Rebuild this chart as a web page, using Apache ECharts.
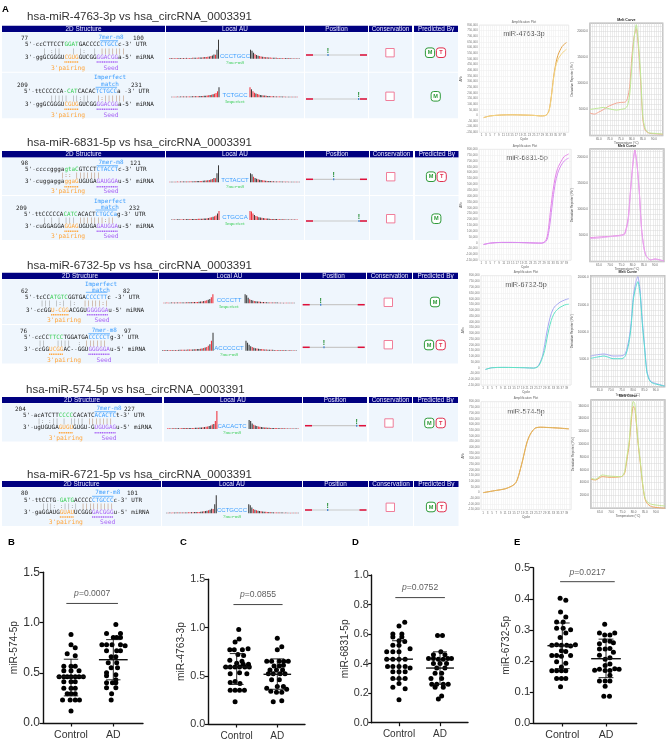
<!DOCTYPE html>
<html><head><meta charset="utf-8"><style>html,body{margin:0;padding:0;background:#fff}#c{width:669px;height:741px}</style>
<script src="https://cdn.jsdelivr.net/npm/echarts@6/dist/echarts.min.js"></script></head><body><div id="c"></div><script>
// ---------- scatter data: [jitter, value]
const groups=['Control','AD'];
const bControl=[[0,.88],[0,.78],[.10,.75],[-.09,.69],[.10,.67],[-.17,.565],[0,.565],[.10,.565],[-.17,.52],[0,.52],[.19,.52],[-.28,.46],[-.17,.46],[-.09,.46],[0,.46],[.10,.46],[.19,.46],[.29,.46],[-.17,.41],[0,.41],[.10,.41],[-.17,.345],[0,.345],[.10,.345],[-.09,.29],[0,.29],[.10,.29],[-.2,.23],[-.02,.23],[.10,.23],[.2,.23],[0,.12]];
const bAD=[[.06,.98],[-.16,.89],[.17,.89],[0,.85],[.08,.85],[.17,.85],[-.27,.78],[-.16,.78],[-.03,.78],[.17,.78],[.28,.77],[-.16,.72],[.08,.72],[.17,.72],[-.05,.66],[.06,.66],[-.12,.6],[.08,.6],[-.05,.55],[.1,.55],[-.16,.5],[.06,.48],[-.16,.47],[.06,.43],[-.16,.4],[-.02,.4],[.06,.4],[-.16,.35],[.06,.35],[-.04,.29],[-.05,.23]];
const cControl=[[.05,.98],[.06,.88],[-.04,.85],[-.17,.77],[-.06,.77],[.14,.77],[.28,.78],[.03,.72],[.17,.71],[-.17,.66],[.13,.65],[.16,.62],[.29,.62],[0,.63],[-.27,.59],[-.16,.59],[-.04,.59],[.07,.59],[.2,.59],[.31,.59],[-.16,.52],[.07,.53],[.25,.52],[-.16,.43],[-.04,.44],[.08,.42],[-.16,.35],[-.04,.35],[.07,.35],[.19,.35],[-.04,.23]];
const cAD=[[0,.89],[.11,.80],[0,.77],[-.26,.65],[-.14,.65],[.05,.65],[.16,.65],[.27,.65],[-.08,.6],[.15,.61],[.05,.6],[-.18,.56],[-.02,.56],[.13,.56],[-.22,.52],[-.1,.52],[.07,.52],[.19,.52],[-.14,.46],[.05,.46],[0,.39],[.15,.39],[-.26,.37],[-.16,.34],[-.02,.33],[.11,.33],[.23,.36],[-.1,.23],[.11,.24]];
const dControl=[[.14,.68],[0,.655],[-.15,.6],[.07,.6],[-.15,.58],[.07,.58],[.14,.55],[0,.555],[-.15,.525],[0,.525],[.27,.5],[-.3,.48],[-.15,.48],[0,.48],[-.3,.43],[-.15,.43],[0,.43],[.15,.43],[-.28,.38],[-.15,.38],[0,.38],[.15,.38],[.27,.37],[-.15,.345],[0,.345],[.15,.345],[-.15,.3],[0,.3],[.15,.3],[0,.265],[-.15,.24],[.15,.23],[0,.155]];
const dAD=[[-.06,.59],[.06,.59],[.02,.48],[-.16,.46],[.12,.46],[-.28,.435],[-.16,.435],[-.04,.43],[.08,.43],[.19,.435],[.28,.435],[-.16,.4],[0,.4],[.16,.4],[-.08,.37],[.12,.37],[-.12,.335],[.04,.335],[-.22,.3],[.04,.3],[-.2,.26],[-.08,.26],[.08,.26],[.2,.26],[-.12,.24],[.08,.24],[.04,.18],[-.04,.16]];
const eControl=[[-.05,.402],[.08,.395],[-.04,.357],[.08,.341],[-.13,.325],[.02,.325],[-.13,.305],[.02,.305],[.19,.3],[.08,.29],[-.05,.275],[-.24,.25],[-.13,.252],[-.02,.25],[.1,.25],[.19,.248],[.3,.252],[-.02,.233],[.08,.23],[-.24,.217],[-.13,.217],[-.02,.215],[.19,.217],[-.13,.197],[.08,.192],[-.02,.18],[-.24,.168],[-.13,.168],[-.02,.168],[.08,.168],[-.13,.143],[-.02,.143],[.08,.143],[-.04,.117]];
const eAD=[[-.03,.318],[-.15,.29],[-.03,.283],[.09,.283],[.2,.29],[-.03,.265],[.09,.263],[-.15,.255],[.17,.258],[.09,.24],[-.15,.238],[-.02,.238],[.17,.228],[-.15,.218],[.09,.21],[-.02,.205],[.09,.19],[-.02,.185],[-.26,.17],[-.15,.173],[-.02,.169],[.09,.169],[.2,.175],[.3,.173],[.09,.154],[-.15,.135],[-.02,.135],[.09,.135],[-.02,.118],[-.05,.086],[.08,.086]];
// [mean, lower SD, upper SD]
const bStats=[[.46,.27,.635],[.63,.43,.83]];
const cStats=[[.59,.41,.73],[.515,.36,.675]];
const dStats=[[.43,.295,.555],[.37,.26,.48]];
const eStats=[[.249,.175,.322],[.207,.146,.27]];
const pValues=['0.0007','0.0855','0.0752','0.0217'];
const scatterNames=['miR-574-5p','miR-4763-3p','miR-6831-5p','miR-6732-5p'];
const scatterTicks=[[1.5,.5],[1.5,.5],[1,.2],[.5,.1]];
const scatterBarY=[1.19,1.238,.847,.455];
// ---------- qPCR data
const ampCycles1=[2,5,10,15,20,25,28,30,31,32,33,34,35,36,37,38,39,40];
const amp1a=[-20000,-5000,3000,5000,3000,0,-5000,-3000,8000,45000,165000,330000,450000,530000,575000,610000,630000,645000];
const amp1b=[-20000,-5000,3000,5000,3000,0,-5000,-3000,6000,40000,155000,315000,430000,490000,525000,550000,570000,585000];
const amp2a=[-15000,-3000,3000,3000,1000,-2000,-3000,30000,130000,300000,449000,562000,634000,676000,710000,739000,750000,761000];
const amp2b=[-15000,-3000,3000,3000,1000,-2000,-3000,15000,80000,220000,380000,510000,590000,640000,675000,700000,715000,725000];
const ampCycles3=[2,5,10,15,20,24,25,26,27,28,29,30,31,32,33,34,35,36,37,38,39,40];
const amp3a=[-15000,0,3000,2000,0,-3000,2000,15000,50000,100000,200000,310000,400000,470000,515000,540000,555000,570000,580000,588000,595000,600000];
const amp3b=[-15000,0,3000,2000,0,-3000,0,10000,40000,90000,150000,250000,340000,410000,460000,490000,510000,525000,535000,545000,550000,552000];
const ampCycles4=[1,7,11,14,15,16,17,18,19,20,21,22,23,24,25,27,30,35,40];
const amp4a=[0,20000,33000,57000,70000,90000,140000,210000,285000,370000,445000,495000,530000,555000,570000,575000,573000,568000,560000];
const amp4b=[0,20000,34000,58000,71000,92000,143000,213000,288000,372000,447000,497000,532000,556000,571000,576000,574000,569000,562000];
const meltT1=[61,63,65,67,69,71,73,75,77,78,79,80,81,82,83,84,85,86,87,88,90,94];
const melt1a=[4300,4100,4490,4940,5510,5890,6210,6340,6400,7100,9330,15060,18890,20480,16660,10290,2960,1050,610,420,350,220];
const melt1b=[5000,5130,5250,5380,5190,5000,4870,5000,5190,5700,7740,13470,18570,21240,17610,11560,3600,1370,730,480,420,290];
const meltT2=[61,65,70,75,76.5,78,79,80,81,82,83,84,85,86,88,90,94];
const melt2a=[4550,4680,4810,5060,5380,8250,13340,18120,21300,18440,13340,6340,2830,1110,290,480,100];
const melt2b=[4360,4490,4750,4940,5190,7740,12830,17800,20990,18310,13030,6020,2640,1050,350,420,100];
const meltT3=[61,64,67,71,75,76.5,78,79,80,81,82,83,84,85,86,87,88,90,94];
const melt3a=[5610,5850,5980,5610,5670,6100,8540,11590,16470,18910,20130,17690,12200,7620,3050,1520,910,600,120];
const melt3b=[5180,5430,5610,5120,5120,5670,7930,10980,15860,18000,19210,17080,11590,7200,2740,1340,790,480,120];
const meltT4=[61,63,66,69,74.5,76,77,78,79,79.8,80.5,81,82,83,84,85,86,88,94];
const melt4a=[4520,4420,4940,4840,4940,5460,7540,9880,13780,15860,15600,14040,10140,7020,3800,1560,780,260,0];
const melt4b=[4680,4520,5200,5040,4940,5720,8060,10400,14560,16690,16380,14560,10400,7280,4000,1720,1040,620,360];
const qpcrNames=['miR-4763-3p','miR-6831-5p','miR-6732-5p','miR-574-5p'];
// ---------- target table content
const tableTitles=['hsa-miR-4763-3p vs hsa_circRNA_0003391','hsa-miR-6831-5p vs hsa_circRNA_0003391','hsa-miR-6732-5p vs hsa_circRNA_0003391','hsa-miR-574-5p vs hsa_circRNA_0003391','hsa-miR-6721-5p vs hsa_circRNA_0003391'];
const headers=['2D Structure','Local AU','Position','Conservation','Predicted By'];
const utrLines=["5'-ccCTTCCT[g:GGAT]GACCCC[b:CTGCC]c-3' UTR","5'-ttCCCCCA[g:-CAT]CACAC[b:TCTGCC]a -3' UTR","5'-ccccggga[g:gtaC]GTCCT[b:CTACCT]c-3' UTR","5'-ttCCCCCA[g:CATC]ACACT[b:CTGCCa]g-3' UTR","5'-tcCC[g:ATGTC]GGTGA[b:CCCCTT]c -3' UTR","5'-ccCC[g:TTCC]TGGATGA[b:CCCCCT]g-3' UTR","5'-acATCTT[g:CCCC]CACATC[b:ACACTC]t-3' UTR","5'-ttCCTG[g:-GATG]ACCCC[b:CTGCCC]c-3' UTR"];
const mirLines=["3'-ggGCGGGU[o:CGUG]GUCGG[p:GGACGG]a-5' miRNA","3'-ggGCGGGU[o:CGUG]GUCGG[p:GGACGG]a-5' miRNA","3'-cuggagga[o:ggaG]UGUGA[p:GAUGGA]u-5' miRNA","3'-cuGGAGGA[o:GGAG]UGUGA[p:GAUGGA]u-5' miRNA","3'-ccGG[o:U-CGG]ACGGU[p:GGGGGA]u-5' miRNA","3'-ccGG[o:UCGG]AC--GGU[p:GGGGGA]u-5' miRNA","3'-ugUGUGA[o:GUGU]GUGU-G[p:UGUGAG]u-5' miRNA","3'-gaGGAUG[o:GUAU]UCGGG[p:GACGGG]u-5' miRNA"];
const pairLines=["     | :||   | |:  | [a:|||||||]","       ||||| ||:||  [a:|:||||||]","          [a:|:: |||||||]","     | | | ||| [a:|||||||:||]","    ||| |:| |:  [a:|||||:|]","    ||   ||||  : [a:||||||]","    |: :|| | |||| [a:|||||||]","     |||: :||:| [a:|||||||||]"];
const siteNames=[['7mer-m8'],['Imperfect','match'],['7mer-m8'],['Imperfect','match'],['Imperfect','match'],['7mer-m8'],['7mer-m8'],['7mer-m8']];
const siteStart=[77,209,98,209,62,76,204,80];
const siteEnd=[100,231,121,232,82,97,227,101];
const auWords=['CCCTGCC','TCTGCC','TCTACCT','CTGCCA','CCCCTT','ACCCCCT','CACACTC','CCTGCCC'];
const auLabels=['7mer-m8','Imperfect','7mer-m8','Imperfect','Imperfect','7mer-m8','7mer-m8','7mer-m8'];
const predictedBy=['MT','M','MT','M','M','MT','MT','MT'];
const auLeft=[
[.6,.6,.6,.5,.6,.6,.6,.7,.6,.7,.7,.8,.7,.8,.8,.9,.9,1,1,1.1,1.2,1.3,1.4,1.6,1.8,2,2.3,2.7,3.2,4.3,4,9,19],
[.6,.5,.6,.6,.7,.6,.7,.7,.8,.7,.8,.8,.9,.8,1,1,1,1.1,1.1,1.2,1.3,1.4,1.5,1.6,1.7,2,2.2,2.6,3,3.6,4.2,6,10],
[.6,.6,.5,.6,.6,.7,.6,.7,.8,.7,.8,.8,.9,.9,1,.9,1,1.1,1.2,1.2,1.3,1.4,1.5,1.7,1.9,2.1,2.4,2.8,3.3,4.2,4,9,17],
[.5,.6,.6,.6,.7,.7,.6,.8,.7,.8,.8,.9,.8,.9,1,1,1,1.1,1.2,1.2,1.3,1.3,1.5,1.6,1.8,2,2.4,2.7,3.2,3.8,4.4,6.5,9],
[.6,.6,.7,.6,.6,.7,.7,.7,.8,.8,.7,.8,.9,.9,.9,1,1,1,1.1,1.2,1.2,1.3,1.4,1.5,1.7,1.9,2.2,2.5,3,3.6,4.2,6,9],
[.6,.6,.6,.7,.6,.7,.7,.8,.7,.8,.8,.9,.9,.9,1,1,1.1,1.1,1.2,1.3,1.4,1.5,1.6,1.8,2,2.3,2.7,3.1,3.8,5,6.5,10,18],
[.7,.7,.6,.7,.7,.8,.7,.8,.8,.8,.9,.9,.9,1,1,1,1.1,1.1,1.2,1.2,1.3,1.4,1.5,1.7,1.9,2.2,2.5,3,3.6,4.4,5,8,18],
[.6,.6,.7,.6,.7,.7,.7,.8,.8,.7,.8,.9,.9,.9,1,1,1.1,1,1.2,1.2,1.3,1.4,1.6,1.7,2,2.2,2.6,3,3.6,4.5,4.2,9,18]];
const auRight=[
[9,8,6,4.5,3.6,3,2.6,2.2,2,1.8,1.5,1.4,1.3,1.1,1,1,.9,.9,.8,.8,.7,.7,.7,.6,.6,.6,.6,.5,.5,.5,.5,.5,.5],
[10,8,6,4.6,3.8,3.2,2.8,2.4,2.1,1.9,1.7,1.5,1.4,1.2,1.1,1,1,.9,.8,.8,.8,.7,.7,.7,.6,.6,.5,.6,.5,.5,.5,.5,.5],
[9,8,5.5,4.2,3.5,3,2.6,2.3,2,1.8,1.6,1.4,1.3,1.2,1.1,1,.9,.9,.9,.8,.8,.7,.7,.6,.7,.6,.6,.5,.6,.5,.5,.5,.5],
[9,8.5,6.5,5,4,3.4,2.8,2.5,2.2,2,1.7,1.5,1.4,1.3,1.1,1,1,.9,.9,.8,.8,.7,.7,.7,.6,.6,.6,.5,.5,.5,.5,.5,.5],
[9,8,5.5,4,3.3,2.8,2.4,2.1,1.9,1.7,1.5,1.3,1.2,1.1,1,.9,.9,.8,.8,.7,.7,.7,.6,.6,.6,.5,.6,.5,.5,.5,.5,.5,.5],
[10,8,6,4.5,3.6,3,2.5,2.2,2,1.8,1.6,1.4,1.3,1.1,1,1,.9,.9,.8,.8,.7,.7,.7,.6,.6,.6,.5,.5,.6,.5,.5,.5,.5],
[9,8,5.5,4.2,3.4,2.9,2.5,2.2,2,1.8,1.6,1.4,1.3,1.2,1.1,1,1,.9,.9,.8,.8,.7,.7,.7,.6,.6,.6,.6,.5,.5,.5,.5,.5],
[9,8,5.8,4.4,3.5,3,2.6,2.3,2,1.8,1.6,1.5,1.3,1.2,1.1,1,.9,.9,.8,.8,.8,.7,.7,.6,.7,.6,.6,.5,.5,.5,.5,.5,.5]];
const auLeftColors=['rkrkrrkkrkrkrrkrkkrrkkrkrrkrkkrkk','krrkrkkrkrkrrkkrkrrkkrkkrrkrkrrrk','rkkrkrrkrkkrkrrkkrkkrrkkrkrkrkrkk','krkrkkrrkrkkrrkkrkrrkrkkrkrrkrrkr','rkrrkkrkrkrrkkrkrkkrkrrkkrkrrkkrr','krkkrrkrkrkkrrkrkrrkkrkkrkrkrrkrk','rrkrkrkkrrkrkrkkrrkkrkkrkrrkkrkrr','krkrrkkrkrkrkkrrkrkkrrkkrkkrkkrkk'];
const auRightColors=['kkkrkkrrkrkrkrrkkrkrkrrkkrkrkrkrk','rkrrkrrkkrkrkkrrkrkrrkkrkrkkrkrkr','kkrkkrkkrrkrkkrkrkrrkkrkrkrkkrkrk','rrrkrrkkrkrrkkrkrkkrrkrkrkkrkrkrr','kkkrkkrkkrkrkrkkrrkrkkrkrkrrkrkrk','kkkkrkkrkkrrkrkkrkkrrkrkrkkrkrkrk','kkkrkkrrkkrkrkrkkrrkkrkrkrkrkrkkr','kkkrkrkkrkkrrkrkkrrkrkkrkrkrkrkrk'];
// ---------- page layout (pixels), separate from the data
const tableLayout=[
{x:27,y:17,h:[25.7,32],cols:[[2,165],[166,304],[305,368],[369,412],[414,458]],rows:[[32.3,71.7],[72.7,118.3]]},
{x:27,y:143,h:[151,157.5],cols:[[2,165],[166,304],[305,369],[370,413],[415,458.5]],rows:[[157.7,195],[196,240]]},
{x:27,y:266,h:[272.7,279],cols:[[2,158],[159,300],[301,366],[367,412],[413,458]],rows:[[279.2,324],[325,363.5]]},
{x:26,y:390,h:[397,403],cols:[[2,162],[164,302],[303,367],[369,412],[413,458]],rows:[[403.2,441.5]]},
{x:27,y:475,h:[481,487],cols:[[2,161],[162,302],[303,368],[369,413],[414,458.5]],rows:[[487.2,526]]}];
const rowLayout=[
{numL:[21,38],numR:[133,38],site:[111,[37]],ul:40.7,utr:[25,44.7],pair:51,mir:[25,57.3],tick:62,lab:68.3,oc:68,sc:111,au:[169,300,58.7],word:[235,56],auLab:62.8,pos:[306,367,55,328],cons:[390,52.7],pred:[430,441,52.7]},
{numL:[17,85],numR:[131,85],site:[110,[77.7,84.3]],ul:87.3,utr:[24,91.7],pair:98.3,mir:[25,104.3],tick:109.3,lab:115,oc:68,sc:111,au:[171,298,97.3],word:[235,95],auLab:102,pos:[306,367,99,358.7],cons:[390,96.3],pred:[435.7,0,96.3]},
{numL:[21,163.3],numR:[130,163.3],site:[111,[162]],ul:165.7,utr:[25,169.3],pair:175.7,mir:[25,181.7],tick:186.7,lab:191.7,oc:68,sc:111,au:[169,300,182.3],word:[235,180.5],auLab:186.7,pos:[306,367,179.3,333.7],cons:[390.7,176.7],pred:[431,441.7,176.7]},
{numL:[16,208.3],numR:[129,208.3],site:[110,[201,207.3]],ul:210,utr:[24,214.3],pair:220.3,mir:[25,226.3],tick:231.3,lab:236.7,oc:68,sc:111,au:[171,298,220],word:[235,217.5],auLab:224,pos:[306,367,221,359],cons:[390.7,218.7],pred:[436.3,0,218.7]},
{numL:[21,291],numR:[123,291],site:[101,[284,290]],ul:292.3,utr:[25,297.7],pair:303.7,mir:[26,310],tick:314.7,lab:320.7,oc:64,sc:102,au:[163,295,303.3],word:[229,300.5],auLab:307,pos:[302.7,364.7,304.7,320.7],cons:[388.3,302.3],pred:[435,0,302]},
{numL:[20,331],numR:[124,331],site:[104.3,[330]],ul:333.7,utr:[24,337],pair:343.3,mir:[24,349.7],tick:354.3,lab:360,oc:64,sc:104,au:[162,297,350.7],word:[229,348],auLab:354.5,pos:[302.7,364.7,347.3,324],cons:[388.3,344.7],pred:[429,440.7,345]},
{numL:[15,409.3],numR:[124,409.3],site:[109,[408.3]],ul:411.7,utr:[23,415.7],pair:421.7,mir:[23,427.7],tick:432.7,lab:438,oc:65.7,sc:109,au:[167,299,429],word:[232,426.5],auLab:432.5,pos:[305,366,425.7,356.7],cons:[389,423],pred:[429.3,440.7,423]},
{numL:[21,493.3],numR:[127,493.3],site:[107.7,[492.7]],ul:496.3,utr:[24,500],pair:506,mir:[24,512],tick:517,lab:522.3,oc:65.7,sc:107.7,au:[166,299,513.3],word:[232,510.5],auLab:516.7,pos:[305,366.5,510,327.7],cons:[390.3,507.3],pred:[431,441.7,507]}];
const scatterLayout=[
{axis:43,end:143,top:572.3,bottom:725,c:[71,113.3],nameGap:17,font:12,xf:10.5,barX:[.89,2.11],label:['B',8]},
{axis:208.3,end:305,top:579.3,bottom:724.7,c:[236.7,277.3],nameGap:17,font:10.8,xf:10,barX:[.92,2.13],label:['C',180]},
{axis:371.7,end:468,top:575,bottom:722.7,c:[399,440],nameGap:21,font:10.8,xf:10,barX:[.91,2.12],label:['D',352]},
{axis:533.3,end:636.7,top:567.7,bottom:724.3,c:[562.3,606],nameGap:22,font:11.3,xf:10.6,barX:[.95,2.2],label:['E',514]}];
const ampLayout=[{l:479.3,r:568.7,t:25,b:132.3},{l:479,r:571,t:149.3,b:260.3},{l:481,r:571,t:275.7,b:385},{l:481,r:571,t:401.7,b:509.7}];
const meltLayout=[{l:590,r:662.7,t:23.3,b:135.5,max:21500,lab:5000,tt:20},{l:590,r:664,t:149,b:261.5,max:21500,lab:5000,tt:146},{l:590.7,r:664.7,t:275.7,b:386.7,max:20300,lab:5000,tt:272},{l:591,r:665,t:400,b:508.3,max:16900,lab:2000,tt:396}];
const SANS='"Liberation Sans",Arial,sans-serif',MONO='"DejaVu Sans Mono",monospace';
const COL={k:'#222',g:'#3ccf58',b:'#3b9dff',o:'#ffa63d',p:'#a964f5',a:'#b98b6c',n:'#999'};
const PITCH=3.58;
const g=[];
const rect=(x,y,w,h,fill,extra)=>g.push({type:'rect',silent:true,shape:Object.assign({x,y,width:w,height:h},extra&&extra.shape),style:Object.assign({fill},extra&&extra.style)});
const text=(t,x,y,font,fill,align,weight,fam,rot)=>g.push({type:'text',silent:true,x,y,rotation:rot||0,style:{text:t,fill,font:(weight?weight+' ':'')+font+'px '+(fam||SANS),textAlign:align||'left',textVerticalAlign:'middle'}});
const segLine=(x1,y,x2,stroke,w,dash)=>g.push({type:'line',silent:true,shape:{x1,y1:y,x2,y2:y},style:{stroke,lineWidth:w||1,lineDash:dash||null}});
function parse(s){const out=[];const re=/\[([a-z]):([^\]]*)\]|([^\[]+)/g;let m;while((m=re.exec(s))){if(m[1])out.push([m[1],m[2]]);else out.push(['',m[3]]);}return out;}
function drawMono(s,x,y,base){let i=0;const r={};parse(s).forEach(([c,t])=>{text(t,x+i*PITCH,y,5.95,COL[c||base],'left',null,MONO);if(c)r[c]=[x+i*PITCH,x+(i+t.length)*PITCH];i+=t.length;});return r;}
// tables
tableLayout.forEach((t,ti)=>{
 text(tableTitles[ti],t.x,t.y,11.5,'#333');
 t.cols.forEach((c,ci)=>{rect(c[0],t.h[0],c[1]-c[0],t.h[1]-t.h[0],'#000080');text(headers[ci],(c[0]+c[1])/2,(t.h[0]+t.h[1])/2,6.4,'#e8e8ff','center');
  t.rows.forEach(r=>rect(c[0],r[0],c[1]-c[0],r[1]-r[0],'#eff6fd'));});
});
// rows
rowLayout.forEach((r,i)=>{
 text(''+siteStart[i],r.numL[0],r.numL[1],5.95,'#222','left',null,MONO);
 text(''+siteEnd[i],r.numR[0],r.numR[1],5.95,'#222','left',null,MONO);
 siteNames[i].forEach((n,k)=>text(n,r.site[0],r.site[1][k],5.95,COL.b,'center',null,MONO));
 const u=drawMono(utrLines[i],r.utr[0],r.utr[1],'k');
 segLine(u.b[0],r.ul,u.b[1],'#3b9dff',.7);
 drawMono(pairLines[i],r.mir[0],r.pair,'n');
 const m=drawMono(mirLines[i],r.mir[0],r.mir[1],'k');
 segLine(m.o[0],r.tick,m.o[1],COL.o,1.4,[1.2,.6]);
 segLine(m.p[0],r.tick,m.p[1],COL.p,1.4,[1.2,.6]);
 text("3'pairing",r.oc,r.lab,6.3,COL.o,'center',null,MONO);
 text('Seed',r.sc,r.lab,6.3,COL.p,'center',null,MONO);
 text(auWords[i],r.word[0],r.word[1],6,COL.b,'center');
 text(auLabels[i],r.word[0],r.auLab,5,COL.g,'center',null,'"Liberation Serif",serif');
 const p=r.pos;
 segLine(p[0],p[2],p[1],'#c9c9c9',1.2);
 segLine(p[0],p[2],p[0]+7,'#e0103a',1.5);segLine(p[1]-7,p[2],p[1],'#e0103a',1.5);
 rect(p[3]-.6,p[2]-1,1.2,2,'#3b7fd0');
 text('!',p[3],p[2]-3.8,7,'#1e8a2e','center','bold');
 const c=r.cons;
 g.push({type:'rect',silent:true,shape:{x:c[0]-4.2,y:c[1]-4.2,width:8.4,height:8.4},style:{fill:'#fff',stroke:'#ee6f8e',lineWidth:.9}});
 const badge=(x,ch,col)=>{g.push({type:'rect',silent:true,shape:{x:x-4.6,y:r.pred[2]-4.8,width:9.2,height:9.6,r:2.6},style:{fill:'#fff',stroke:col,lineWidth:1}});text(ch,x,r.pred[2]+.2,5.6,col,'center','bold');};
 badge(r.pred[0],'M','#2e9a3a');
 if(predictedBy[i]==='MT')badge(r.pred[1],'T','#e0304f');
});
// panel letters
text('A',2,9.5,9.5,'#000','left','bold');
scatterLayout.forEach(s=>text(s.label[0],s.label[1],542.7,9.5,'#000','left','bold'));
// charts
const grids=[],xs=[],ys=[],series=[];
function addGrid(gr,x,y){grids.push(gr);xs.push(Object.assign({gridIndex:grids.length-1},x));ys.push(Object.assign({gridIndex:grids.length-1},y));return grids.length-1;}
const scatterData=[[bControl,bAD],[cControl,cAD],[dControl,dAD],[eControl,eAD]];
const stats=[bStats,cStats,dStats,eStats];
scatterLayout.forEach((s,i)=>{
 const band=s.c[1]-s.c[0];
 const al={show:true,onZero:false,lineStyle:{color:'#111',width:1.4}};
 const gi=addGrid({left:s.axis,width:s.end-s.axis,top:s.top,height:s.bottom-s.top},
 {type:'value',min:1-(s.c[0]-s.axis)/band,max:1+(s.end-s.c[0])/band,splitLine:{show:false},axisLine:al,
  axisTick:{show:true,length:3.5,lineStyle:{color:'#111',width:1.2},customValues:[1,2]},
  axisLabel:{fontFamily:SANS,fontSize:s.xf,color:'#333',margin:7,customValues:[1,2],formatter:v=>groups[Math.round(v)-1]}},
 {type:'value',min:0,max:scatterTicks[i][0],interval:scatterTicks[i][1],splitLine:{show:false},axisLine:al,
  axisTick:{show:true,length:3.5,lineStyle:{color:'#111',width:1.2}},
  axisLabel:{fontFamily:SANS,fontSize:s.font,color:'#333',margin:3,formatter:v=>v.toFixed(1)},
  name:scatterNames[i],nameLocation:'middle',nameGap:s.nameGap,nameTextStyle:{fontFamily:SANS,fontSize:10.2,color:'#333'}});
 scatterData[i].forEach((d,k)=>series.push({type:'scatter',xAxisIndex:gi,yAxisIndex:gi,symbolSize:5,itemStyle:{color:'#000',opacity:1},data:d.map(p=>[k+1+p[0],p[1]]),z:3}));
 series.push({type:'custom',xAxisIndex:gi,yAxisIndex:gi,z:4,data:stats[i].map((v,k)=>[k+1,v[0],v[1],v[2]]),encode:{x:0,y:[1,2,3]},
  renderItem:(p,api)=>{const x=api.value(0),c=(a,b)=>api.coord([a,b]);const L=(a,b,lw)=>({type:'line',shape:{x1:a[0],y1:a[1],x2:b[0],y2:b[1]},style:{stroke:'#111',lineWidth:lw}});
   const m=api.value(1),lo=api.value(2),hi=api.value(3);
   return {type:'group',children:[L(c(x-.34,m),c(x+.34,m),1.4),L(c(x,lo),c(x,hi),.9),L(c(x-.17,lo),c(x+.17,lo),.9),L(c(x-.17,hi),c(x+.17,hi),.9)]};}});
 const by=scatterBarY[i],bx=s.barX,mid=(bx[0]+bx[1])/2;
 series.push({type:'line',xAxisIndex:gi,yAxisIndex:gi,symbol:'none',lineStyle:{color:'#444',width:1},silent:true,z:2,data:[[bx[0],by],[bx[1],by]]});
 series.push({type:'scatter',xAxisIndex:gi,yAxisIndex:gi,symbolSize:1,itemStyle:{color:'rgba(0,0,0,0)'},silent:true,z:5,data:[[mid,by]],
  label:{show:true,position:'top',distance:4.5,color:'#333',formatter:'{i|p}{n|='+pValues[i]+'}',rich:{i:{fontFamily:SANS,fontStyle:'italic',fontSize:8.6,color:'#333'},n:{fontFamily:SANS,fontSize:8.6,color:'#333'}}}});
});
// local AU bars
rowLayout.forEach((r,i)=>{
 const vals=auLeft[i].concat(new Array(20).fill(0),auRight[i]);
 const cols=auLeftColors[i]+'x'.repeat(20)+auRightColors[i];
 const gi=addGrid({left:r.au[0],width:r.au[1]-r.au[0],top:r.au[2]-25,height:25},
 {type:'category',show:false,data:vals.map((_,k)=>k)},{type:'value',show:false,min:0,max:25,splitLine:{show:false}});
 series.push({type:'bar',xAxisIndex:gi,yAxisIndex:gi,barWidth:1.05,data:vals.map((v,k)=>({value:v,itemStyle:{color:cols[k]==='r'?'#f0303a':'#3a3a3a'}})),silent:true,animation:false});
});
// amplification plots
const amps=[[ampCycles1,amp1a,amp1b,'#e3a347','#f3d483'],[ampCycles1,amp2a,amp2b,'#e585e8','#d88cf0'],[ampCycles3,amp3a,amp3b,'#a7a8f2','#5fe3c4'],[ampCycles4,amp4a,amp4b,'#eca45c','#e0b45a']];
ampLayout.forEach((a,i)=>{
 const gl={show:true,lineStyle:{color:'#ececec',width:.5}};
 const gi=addGrid({left:a.l,width:a.r-a.l,top:a.t,height:a.b-a.t,show:true,borderColor:'#ddd',borderWidth:.6},
 {type:'value',min:0,max:41,interval:1,splitLine:gl,axisLine:{show:false},axisTick:{show:false},
  axisLabel:{fontSize:3,fontFamily:SANS,color:'#777',margin:1.5,customValues:[1,3,5,7,9,11,13,15,17,19,21,23,25,27,29,31,33,35,37,39]},
  name:'Cycle',nameLocation:'middle',nameGap:5.5,nameTextStyle:{fontSize:3.2,fontFamily:SANS,color:'#555'}},
 {type:'value',min:-150000,max:800000,interval:50000,splitLine:gl,axisLine:{show:false},axisTick:{show:false},
  axisLabel:{fontSize:2.9,fontFamily:SANS,color:'#777',margin:1.5,formatter:v=>v.toLocaleString('en-US')},
  name:'ΔRn',nameLocation:'middle',nameGap:9,nameTextStyle:{fontSize:3,fontFamily:SANS,color:'#555'}});
 [1,2].forEach(k=>series.push({type:'line',xAxisIndex:gi,yAxisIndex:gi,smooth:.3,symbol:'none',lineStyle:{color:amps[i][k+2],width:1},silent:true,data:amps[i][0].map((c,n)=>[c,amps[i][k][n]])}));
 text('Amplification Plot',(a.l+a.r)/2,a.t-3.2,3.2,'#666','center');
 text(qpcrNames[i],(a.l+a.r)/2+(i==1?2:0),a.t+(i==2?9.5:i==3?10:9),7.2,'#444','center');
});
// melt curves
const melts=[[meltT1,melt1a,melt1b,'#f3a793','#bde994'],[meltT2,melt2a,melt2b,'#e884e4','#e8a8ee'],[meltT3,melt3a,melt3b,'#a9a9f2','#55dccf'],[meltT4,melt4a,melt4b,'#eea55f','#c4e690']];
meltLayout.forEach((a,i)=>{
 const gl={show:true,lineStyle:{color:'#d8d8d8',width:.5}};
 const gi=addGrid({left:a.l,width:a.r-a.l,top:a.t,height:a.b-a.t,show:true,backgroundColor:'#fff',borderColor:'#b5b5b5',borderWidth:1.4},
 {type:'value',min:61,max:94,interval:1,splitLine:gl,axisLine:{show:false},axisTick:{show:false},
  axisLabel:{fontSize:3,fontFamily:SANS,color:'#666',margin:2,customValues:[65,70,75,80,85,90],formatter:v=>v.toFixed(1)},
  name:'Temperature (°C)',nameLocation:'middle',nameGap:6.5,nameTextStyle:{fontSize:3.2,fontFamily:SANS,color:'#555'}},
 {type:'value',min:0,max:a.max,interval:1000,splitLine:gl,axisLine:{show:false},axisTick:{show:false},
  axisLabel:{fontSize:3,fontFamily:SANS,color:'#666',margin:2,formatter:v=>(v>0&&v%a.lab===0)?v.toFixed(1):''},
  name:"Derivative Reporter (-Rn')",nameLocation:'middle',nameGap:11,nameTextStyle:{fontSize:3,fontFamily:SANS,color:'#555'}});
 [1,2].forEach(k=>series.push({type:'line',xAxisIndex:gi,yAxisIndex:gi,smooth:.25,symbol:'none',lineStyle:{color:melts[i][k+2],width:1},silent:true,data:melts[i][0].map((c,n)=>[c,melts[i][k][n]])}));
 text('Melt Curve',(a.l+a.r)/2,a.tt,3.6,'#222','center','bold');
});
const chart=echarts.init(document.getElementById('c'),null,{renderer:'canvas'});
chart.setOption({animation:false,grid:grids,xAxis:xs,yAxis:ys,series,graphic:{elements:g}});
</script></body></html>
